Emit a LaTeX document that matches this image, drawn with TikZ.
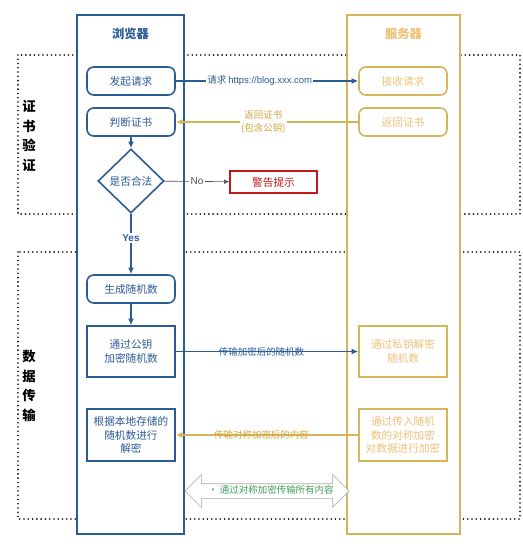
\documentclass[tikz,border=0pt]{standalone}
\usepackage{fontspec}
\setmainfont{Noto Sans CJK SC}
\newfontfamily\latinfont{Liberation Sans}
\usetikzlibrary{positioning,arrows.meta,shapes.geometric,shapes.arrows}
\definecolor{cliblue}{HTML}{2C5C96}
\definecolor{srvgold}{HTML}{D6B45A}
\definecolor{srvtext}{HTML}{EDC277}
\definecolor{srvlabel}{HTML}{D3A53C}
\definecolor{warnred}{HTML}{C0181B}
\definecolor{symgreen}{HTML}{3E9E5C}
\definecolor{arrowgray}{HTML}{A8A8A8}
\definecolor{nogray}{HTML}{555555}

\begin{document}
\begin{tikzpicture}[x=0.75pt, y=-0.75pt,
  zone/.style={line width=1.35pt, dash pattern=on 0pt off 3.2pt, line cap=round},
  lane/.style={line width=1.2pt, fill=white},
  title/.style={font=\fontsize{9.2}{11}\selectfont\bfseries},
  side/.style={align=center, font=\fontsize{10}{14.6}\selectfont\bfseries, inner sep=0pt},
  bround/.style={draw=cliblue, line width=1.2pt, rounded corners=5pt, fill=white,
                 text=cliblue, font=\fontsize{8}{10}\selectfont,
                 minimum width=66pt, minimum height=21pt, align=center},
  bsquare/.style={bround, rounded corners=0pt, minimum height=38.25pt},
  ground/.style={bround, draw=srvgold, text=srvtext},
  gsquare/.style={ground, rounded corners=0pt, minimum height=38.25pt},
  valid/.style={diamond, draw=cliblue, line width=1.2pt, fill=white, text=cliblue,
                font=\fontsize{8}{10}\selectfont, inner sep=0pt, aspect=1,
                minimum width=49.5pt, minimum height=48pt},
  warn/.style={draw=warnred, line width=1.2pt, fill=white, text=warnred,
               font=\fontsize{8}{10}\selectfont, minimum width=65pt, minimum height=16.5pt},
  lbl/.style={font=\fontsize{7.1}{9.5}\selectfont, inner sep=1pt, align=center},
  bflow/.style={-{Latex[length=5pt,width=4.5pt]}, draw=cliblue, line width=1.1pt},
  gflow/.style={bflow, draw=srvgold},
  nflow/.style={-{Latex[length=4pt,width=3.5pt]}, draw=nogray, line width=0.5pt},
  symarrow/.style={double arrow, draw=arrowgray, fill=white, line width=0.5pt,
                   inner sep=5.25pt, double arrow head extend=6.75pt,
                   minimum height=123pt}
]
\useasboundingbox (0,0) rectangle (523,544);
% zones and lanes
\draw[zone] (18,55) rectangle (520,214);
\draw[zone] (18,252) rectangle (520,519);
\draw[lane, draw=cliblue] (77,15) rectangle (184,534);
\draw[lane, draw=srvgold] (347,15) rectangle (460,534);
\node[title, text=cliblue] (tb) at (130.5,34) {浏览器};
\node[title, text=srvtext] (ts) at (403.5,34) {服务器};
\node[side] (zcert) at (29,136) {证\\书\\验\\证};
\node[side] (zdata) at (29,386) {数\\据\\传\\输};

% browser side
\node[bround] (req) at (131,81) {发起请求};
\node[bround] (chk) at (131,122) {判断证书};
\node[valid] (ok) at (131,181) {是否合法};
\node[warn] (warn) at (273.5,182) {警告提示};
\node[bround] (gen) at (131,289) {生成随机数};
\node[bsquare] (enc) at (131,351.5) {通过公钥\\加密随机数};
\node[bsquare, minimum height=39pt] (dec) at (131,435) {根据本地存储的\\随机数进行\\解密};

% server side
\node[ground] (recv) at (403,81) {接收请求};
\node[ground] (cert) at (403,122) {返回证书};
\node[gsquare] (pdec) at (403,351.5) {通过私钥解密\\随机数};
\node[gsquare, minimum height=39pt] (senc) at (403,435) {通过传入随机\\数的对称加密\\对数据进行加密};

% connectors
\draw[bflow] (req) -- node[lbl, fill=white, text=cliblue, pos=0.46] {请求 {\latinfont https://blog.xxx.com}} (recv);
\draw[gflow] (cert) -- node[lbl, fill=white, text=srvlabel, pos=0.52] {返回证书\\(包含公钥)} (chk);
\draw[bflow] (chk) -- (ok);
\draw[nflow] (ok) -- node[lbl, fill=white, text=nogray, font=\fontsize{7.5}{9}\latinfont] {No} (warn);
\draw[bflow] (ok) -- node[lbl, fill=white, text=cliblue, font=\fontsize{7.5}{9}\latinfont\bfseries, pos=0.4] {Yes} (gen);
\draw[bflow] (gen) -- (enc);
\draw[bflow] (enc) -- node[lbl, text=cliblue, pos=0.47] {传输加密后的随机数} (pdec);
\draw[gflow] (senc) -- node[lbl, text=srvlabel, pos=0.53] {传输对称加密后的内容} (dec);

\node[symarrow] (sym) at (267,491) {};
\node[lbl, text=symgreen] (symt) at (271,490) {• 通过对称加密传输所有内容};
\end{tikzpicture}
\end{document}
